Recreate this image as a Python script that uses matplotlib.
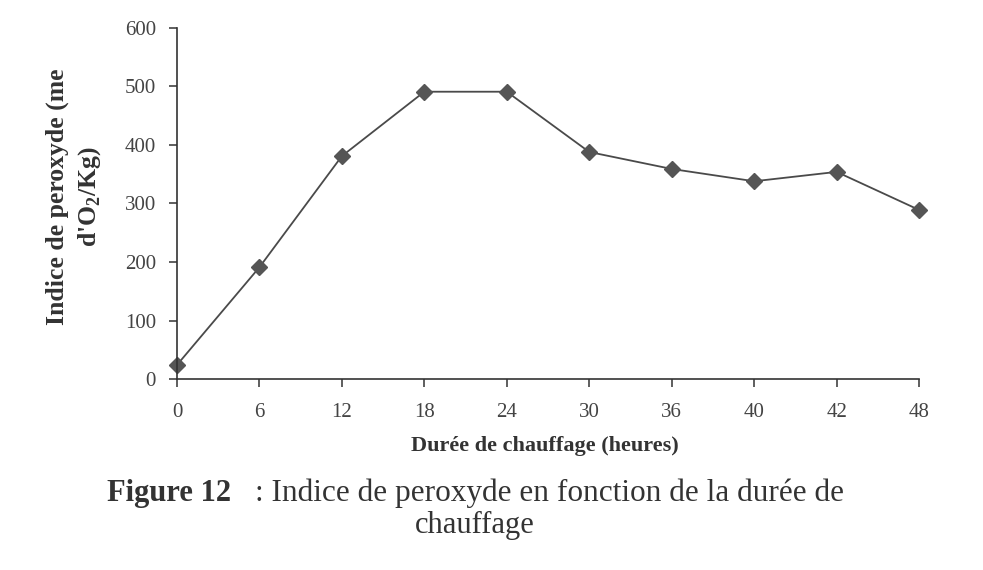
import matplotlib.pyplot as plt

plt.rcParams['font.family'] = ['Liberation Serif', 'DejaVu Serif']
plt.rcParams['mathtext.fontset'] = 'custom'
plt.rcParams['mathtext.rm'] = 'Liberation Serif'
plt.rcParams['mathtext.bf'] = 'Liberation Serif:bold'

# heating time categories (hours) and peroxide index values
durees = ['0', '6', '12', '18', '24', '30', '36', '40', '42', '48']
indice = [24, 191, 381, 491, 491, 388, 359, 338, 354, 289]
yticks = [0, 100, 200, 300, 400, 500, 600]

fig = plt.figure(figsize=(9.83, 5.70), dpi=100)
ax = fig.add_axes([0.180, 0.335, 0.755, 0.616])

pos = list(range(len(durees)))
ax.plot(pos, indice, color='#4a4a4a', lw=1.3, marker='D', ms=8,
        mfc='#555555', mec='#555555', clip_on=False)

ax.set_xlim(0, len(durees) - 1)
ax.set_ylim(0, 600)
ax.set_xticks(pos)
ax.set_xticklabels(durees)
ax.set_yticks(yticks)

for s in ['top', 'right']:
    ax.spines[s].set_visible(False)
for s in ['left', 'bottom']:
    ax.spines[s].set_color('#333333')
    ax.spines[s].set_linewidth(1.2)

ax.tick_params(axis='both', direction='out', length=6, width=1.1,
               colors='#333333', labelsize=15, labelcolor='#444444')
ax.tick_params(axis='x', pad=11)
ax.tick_params(axis='y', pad=9)

fig.text(0.554, 0.218, 'Durée de chauffage (heures)', ha='center', va='center',
         fontsize=16, fontweight='bold', color='#333333')

fig.text(0.058, 0.655, 'Indice de peroxyde (me', rotation=90, ha='center', va='center',
         fontsize=18.5, fontweight='bold', color='#333333')
fig.text(0.091, 0.655, r"d'O$_{\mathbf{2}}$/Kg)", rotation=90, ha='center', va='center',
         fontsize=18.5, fontweight='bold', color='#333333')

# caption below the chart
fig.text(0.109, 0.135, 'Figure 12', ha='left', va='center',
         fontsize=22, fontweight='bold', color='#333333')
fig.text(0.259, 0.135, ': Indice de peroxyde en fonction de la durée de', ha='left', va='center',
         fontsize=22.5, color='#333333')
fig.text(0.483, 0.078, 'chauffage', ha='center', va='center',
         fontsize=22, color='#333333')

fig.savefig('out.png', dpi=100)
